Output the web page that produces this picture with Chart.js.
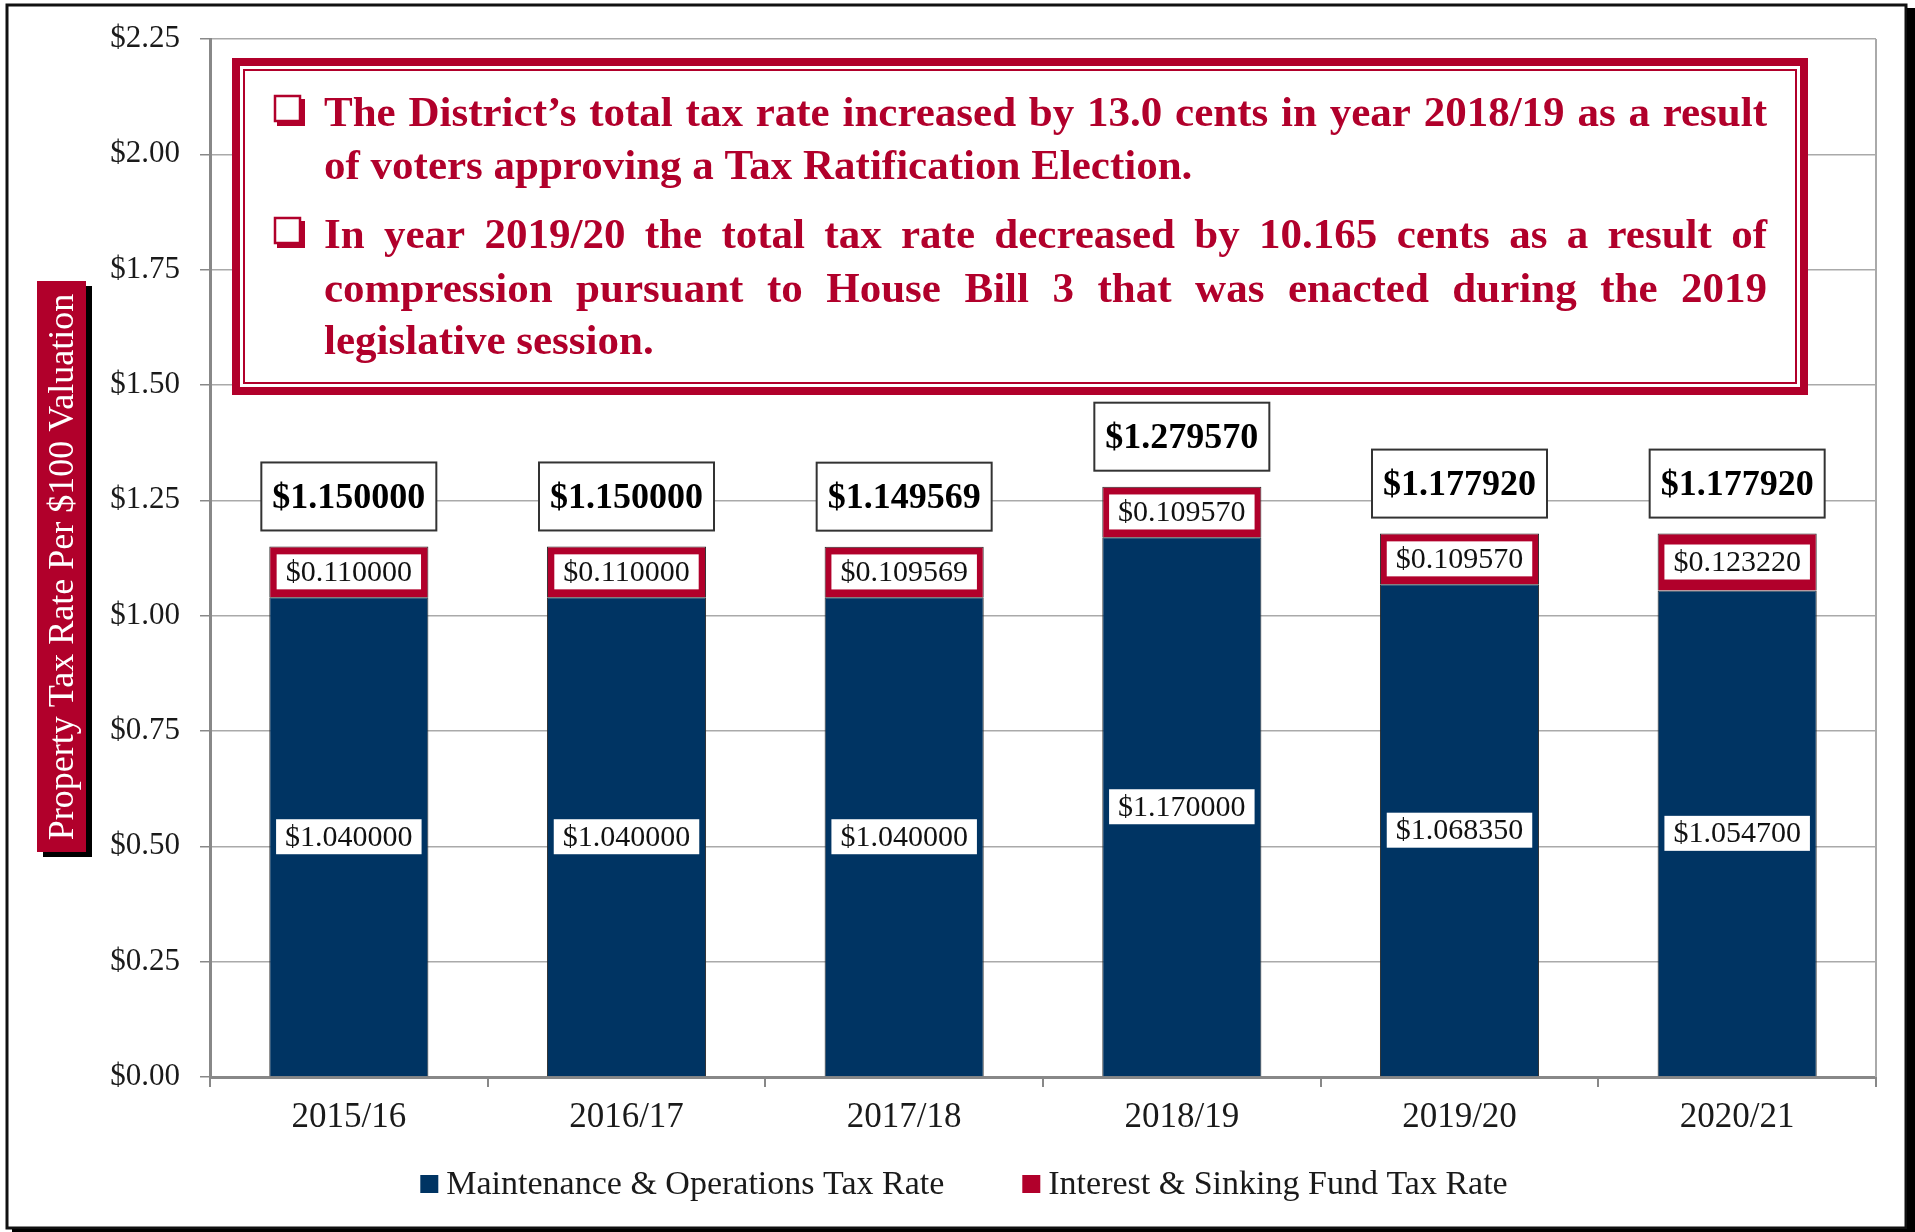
<!DOCTYPE html>
<html>
<head>
<meta charset="utf-8">
<title>Property Tax Rate Per $100 Valuation</title>
<script src="https://cdn.jsdelivr.net/npm/chart.js@4.4.1/dist/chart.umd.min.js"></script>
<style>
  html, body { margin: 0; padding: 0; background: #fff; }
  canvas { display: block; }
</style>
</head>
<body>
<canvas id="taxChart" width="1915" height="1232"></canvas>
<script>
const years = ["2015/16", "2016/17", "2017/18", "2018/19", "2019/20", "2020/21"];
const moRates = [1.04, 1.04, 1.04, 1.17, 1.06835, 1.0547];
const isRates = [0.11, 0.11, 0.109569, 0.10957, 0.10957, 0.12322];
const seriesNames = ["Maintenance & Operations Tax Rate", "Interest & Sinking Fund Tax Rate"];
const yTitle = "Property Tax Rate Per $100 Valuation";
const notes = [
  ["The District’s total tax rate increased by 13.0 cents in year 2018/19 as a result",
   "of voters approving a Tax Ratification Election."],
  ["In year 2019/20 the total tax rate decreased by 10.165 cents as a result of",
   "compression pursuant to House Bill 3 that was enacted during the 2019",
   "legislative session."],
];

const NAVY = "#003463";
const RED = "#b1002b";
const SERIF = "'Liberation Serif', 'Times New Roman', serif";

const totals = moRates.map((v, i) => v + isRates[i]);

// white page, outer frame, plot right edge, y title box, notes box, legend
const decorPlugin = {
  id: "decor",
  beforeDraw(chart) {
    const { ctx, width, height } = chart;
    ctx.save();
    ctx.fillStyle = "#fff";
    ctx.fillRect(0, 0, width, height);
    ctx.restore();
  },
  beforeDatasetsDraw(chart) {
    const { ctx, chartArea: a } = chart;
    ctx.save();
    ctx.strokeStyle = "#aaa";
    ctx.lineWidth = 2;
    ctx.beginPath();
    ctx.moveTo(a.right, a.top);
    ctx.lineTo(a.right, a.bottom);
    ctx.stroke();
    ctx.restore();
  },
  afterDraw(chart) {
    const { ctx, chartArea: a } = chart;
    ctx.save();

    // outer frame + shadow
    ctx.strokeStyle = "#111";
    ctx.lineWidth = 3;
    ctx.strokeRect(7, 5, 1899, 1223);
    ctx.fillStyle = "#000";
    ctx.fillRect(1907, 8, 8, 1224);
    ctx.fillRect(12, 1229, 1903, 3);

    // y axis title box with shadow
    ctx.fillStyle = "#000";
    ctx.fillRect(43, 286, 49, 571);
    ctx.fillStyle = RED;
    ctx.fillRect(37, 281, 49, 571);
    ctx.translate(62, 567);
    ctx.rotate(-Math.PI / 2);
    ctx.fillStyle = "#fff";
    ctx.font = "36px " + SERIF;
    ctx.textAlign = "center";
    ctx.textBaseline = "middle";
    ctx.fillText(yTitle, 0, 2);
    ctx.setTransform(1, 0, 0, 1, 0, 0);

    // notes box
    const bx = a.left + 22, by = 58, bw = a.right - 68 - bx, bh = 337;
    ctx.fillStyle = "#fff";
    ctx.fillRect(bx, by, bw, bh);
    ctx.strokeStyle = RED;
    ctx.lineWidth = 8;
    ctx.strokeRect(bx + 4, by + 4, bw - 8, bh - 8);
    ctx.lineWidth = 2;
    ctx.strokeRect(bx + 12, by + 12, bw - 24, bh - 24);

    const textLeft = 324, textRight = 1767;
    const baselines = [[126, 179], [248, 302, 354]];
    ctx.textBaseline = "alphabetic";
    ctx.textAlign = "left";
    notes.forEach((para, p) => {
      // shadowed box bullet
      const b0 = baselines[p][0];
      ctx.strokeStyle = RED;
      ctx.lineWidth = 2.5;
      ctx.strokeRect(275, b0 - 30, 25, 25);
      ctx.fillStyle = RED;
      ctx.fillRect(300, b0 - 27, 5, 27);
      ctx.fillRect(277, b0 - 5, 28, 5);

      ctx.font = "bold 43px " + SERIF;
      para.forEach((line, l) => {
        const y = baselines[p][l];
        if (l === para.length - 1) {
          ctx.fillText(line, textLeft, y);
          return;
        }
        const words = line.split(" ");
        const used = words.reduce((s, w) => s + ctx.measureText(w).width, 0);
        const gap = (textRight - textLeft - used) / (words.length - 1);
        let x = textLeft;
        words.forEach((w) => {
          ctx.fillText(w, x, y);
          x += ctx.measureText(w).width + gap;
        });
      });
    });

    // legend
    ctx.font = "34px " + SERIF;
    ctx.textBaseline = "middle";
    const colors = [NAVY, RED];
    const box = 18, boxGap = 8, itemGap = 78;
    const widths = seriesNames.map((n) => box + boxGap + ctx.measureText(n).width);
    const total = widths[0] + widths[1] + itemGap;
    let lx = 964 - total / 2;
    const ly = 1184;
    seriesNames.forEach((n, i) => {
      ctx.fillStyle = colors[i];
      ctx.fillRect(lx, ly - box / 2, box, box);
      ctx.fillStyle = "#1a1a1a";
      ctx.fillText(n, lx + box + boxGap, ly + 1);
      lx += widths[i] + itemGap;
    });

    ctx.restore();
  },
};

// value boxes inside the segments and total boxes on top
const labelPlugin = {
  id: "valueLabels",
  afterDatasetsDraw(chart) {
    const { ctx } = chart;
    ctx.save();
    ctx.textAlign = "center";
    ctx.textBaseline = "middle";
    chart.data.datasets.forEach((ds, di) => {
      const meta = chart.getDatasetMeta(di);
      meta.data.forEach((bar, i) => {
        const cy = (bar.y + bar.base) / 2;
        const txt = "$" + ds.data[i].toFixed(6);
        ctx.font = "30px " + SERIF;
        const w = ctx.measureText(txt).width + 18;
        ctx.fillStyle = "#fff";
        ctx.fillRect(bar.x - w / 2, cy - 17.5, w, 35);
        ctx.fillStyle = "#111";
        ctx.fillText(txt, bar.x, cy + 1);
      });
    });

    const top = chart.getDatasetMeta(1);
    top.data.forEach((bar, i) => {
      const txt = "$" + totals[i].toFixed(6);
      ctx.font = "bold 36px " + SERIF;
      const w = ctx.measureText(txt).width + 22;
      const h = 68;
      const bottom = bar.y - 16;
      ctx.fillStyle = "#fff";
      ctx.fillRect(bar.x - w / 2, bottom - h, w, h);
      ctx.strokeStyle = "#333";
      ctx.lineWidth = 2;
      ctx.strokeRect(bar.x - w / 2, bottom - h, w, h);
      ctx.fillStyle = "#000";
      ctx.fillText(txt, bar.x, bottom - h / 2 + 2);
    });
    ctx.restore();
  },
};

new Chart(document.getElementById("taxChart").getContext("2d"), {
  type: "bar",
  data: {
    labels: years,
    datasets: [
      {
        label: seriesNames[0],
        data: moRates,
        backgroundColor: NAVY,
        borderColor: "#2b2b2b",
        borderWidth: 1,
        barPercentage: 0.573,
        categoryPercentage: 1,
      },
      {
        label: seriesNames[1],
        data: isRates,
        backgroundColor: RED,
        borderColor: "#2b2b2b",
        borderWidth: 1,
        barPercentage: 0.573,
        categoryPercentage: 1,
      },
    ],
  },
  options: {
    responsive: false,
    animation: false,
    layout: { padding: { top: 39, right: 39, bottom: 95, left: 0 } },
    plugins: {
      legend: { display: false },
      tooltip: { enabled: false },
    },
    scales: {
      x: {
        stacked: true,
        afterFit: (s) => { s.height = 60; },
        grid: {
          display: true,
          drawOnChartArea: false,
          offset: true,
          tickLength: 10,
          color: "#888",
          lineWidth: 2,
        },
        border: { color: "#888", width: 3 },
        ticks: {
          color: "#1a1a1a",
          padding: 10,
          font: { family: SERIF, size: 35 },
        },
      },
      y: {
        stacked: true,
        min: 0,
        max: 2.25,
        afterFit: (s) => { s.width = 210; },
        grid: {
          color: "#aaa",
          lineWidth: 1.5,
          tickLength: 10,
          tickColor: "#888",
        },
        border: { color: "#888", width: 3 },
        ticks: {
          stepSize: 0.25,
          padding: 20,
          color: "#1a1a1a",
          font: { family: SERIF, size: 31 },
          callback: (v) => "$" + Number(v).toFixed(2),
        },
      },
    },
  },
  plugins: [decorPlugin, labelPlugin],
});
</script>
</body>
</html>
